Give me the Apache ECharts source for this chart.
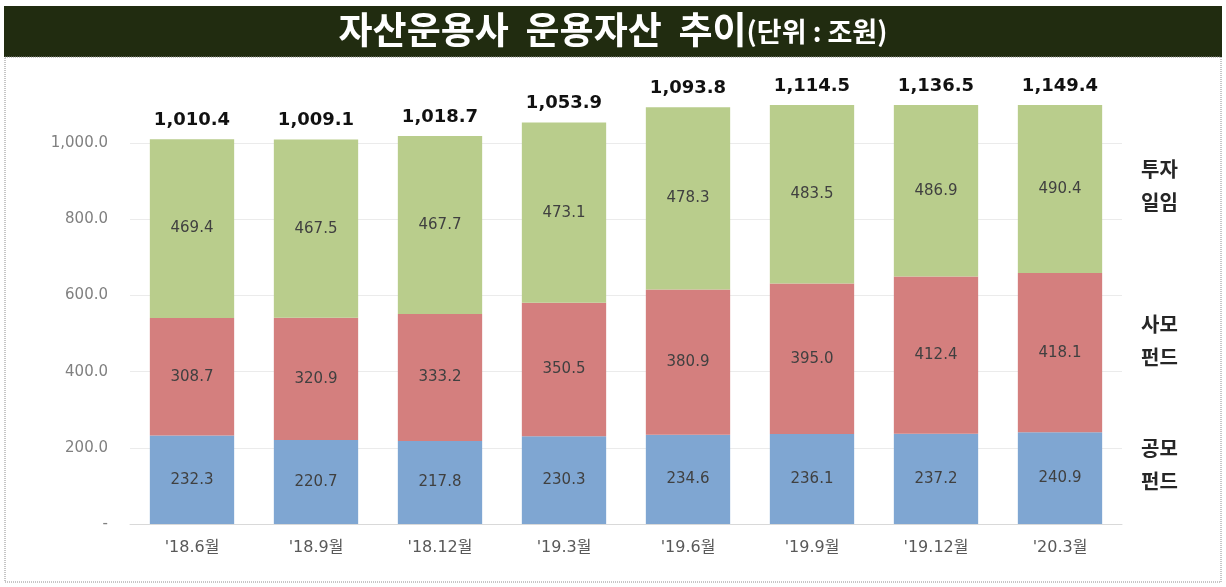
<!DOCTYPE html>
<html>
<head>
<meta charset="utf-8">
<script src="https://cdn.jsdelivr.net/npm/echarts@6/dist/echarts.min.js"></script>
<style>
  html, body { margin: 0; padding: 0; background: #fff; }
  #chart { width: 1226px; height: 587px; }
</style>
</head>
<body>
<div id="chart"></div>
<script>
// data (unit: 조원)
const categories = ["'18.6월", "'18.9월", "'18.12월", "'19.3월", "'19.6월", "'19.9월", "'19.12월", "'20.3월"];
const publicFund = [232.3, 220.7, 217.8, 230.3, 234.6, 236.1, 237.2, 240.9];
const privateFund = [308.7, 320.9, 333.2, 350.5, 380.9, 395.0, 412.4, 418.1];
const discretionary = [469.4, 467.5, 467.7, 473.1, 478.3, 483.5, 486.9, 490.4];
const totals = [1010.4, 1009.1, 1018.7, 1053.9, 1093.8, 1114.5, 1136.5, 1149.4];
const yTicks = [0, 200, 400, 600, 800, 1000];

const FONT_NUM = 'DejaVu Sans';
const FONT_KR = 'Noto Sans CJK KR';

function fmt1(v) {
  return Number(v).toLocaleString('en-US', {minimumFractionDigits: 1, maximumFractionDigits: 1});
}

var chart = echarts.init(document.getElementById('chart'));

const innerLabel = {
  show: true,
  position: 'inside',
  fontFamily: FONT_NUM,
  fontSize: 15,
  color: '#404040',
  formatter: (p) => fmt1(p.value)
};

let opts = {
  animation: false,
  title: {
    text: '{a|자산운용사  운용자산  추이}{b|(단위 : 조원)}',
    left: 'center',
    top: 6,
    textStyle: {
      rich: {
        a: {fontFamily: FONT_KR, fontSize: 37, fontWeight: 'bold', color: '#ffffff'},
        b: {fontFamily: FONT_KR, fontSize: 27, fontWeight: 'bold', color: '#ffffff', padding: [5, 0, 0, 0]}
      }
    }
  },
  graphic: [
    {type: 'rect', z: -1, shape: {x: 4, y: 6, width: 1218, height: 51}, style: {fill: '#212c10'}},
    {type: 'rect', z: -1, shape: {x: 5, y: 57, width: 1216, height: 525},
      style: {fill: 'none', stroke: '#8c8c8c', lineWidth: 1, lineDash: [1, 1]}},
    {type: 'text', left: 1141, top: 153,
      style: {text: '투자\n일임', font: 'bold 20px "Noto Sans CJK KR"', fill: '#262626', lineHeight: 33}},
    {type: 'text', left: 1141, top: 308,
      style: {text: '사모\n펀드', font: 'bold 20px "Noto Sans CJK KR"', fill: '#262626', lineHeight: 33}},
    {type: 'text', left: 1141, top: 432,
      style: {text: '공모\n펀드', font: 'bold 20px "Noto Sans CJK KR"', fill: '#262626', lineHeight: 33}}
  ],
  grid: {left: 130, right: 104, top: 105, bottom: 63},
  xAxis: {
    type: 'category',
    data: categories,
    axisTick: {show: false},
    axisLine: {lineStyle: {color: '#d9d9d9', width: 1}},
    axisLabel: {fontFamily: '"DejaVu Sans", "Noto Sans CJK KR"', fontSize: 16, color: '#595959', margin: 16}
  },
  yAxis: {
    type: 'value',
    min: 0,
    max: 1100,
    interval: 200,
    axisLine: {show: false},
    axisTick: {show: false},
    splitLine: {showMaxLine: false, lineStyle: {color: '#ebebeb', width: 1}},
    axisLabel: {
      fontFamily: FONT_NUM,
      fontSize: 15,
      color: '#808080',
      margin: 22,
      showMaxLabel: false,
      formatter: (v) => (v === 0 ? '-' : (yTicks.indexOf(v) >= 0 ? fmt1(v) : ''))
    }
  },
  series: [
    {
      name: '공모펀드', type: 'bar', stack: 'aum', barWidth: '68%',
      itemStyle: {color: '#7fa6d2'}, label: innerLabel, data: publicFund
    },
    {
      name: '사모펀드', type: 'bar', stack: 'aum', barWidth: '68%',
      itemStyle: {color: '#d47f7e'}, label: innerLabel, data: privateFund
    },
    {
      name: '투자일임', type: 'bar', stack: 'aum', barWidth: '68%',
      itemStyle: {color: '#b9cd8c'}, label: innerLabel, data: discretionary
    },
    {
      // totals, drawn as an invisible bar just for the label on top
      name: '합계', type: 'bar', barWidth: '68%', barGap: '-100%', silent: true,
      itemStyle: {color: 'rgba(0,0,0,0)'},
      label: {
        show: true, position: 'top', distance: 10,
        fontFamily: FONT_NUM, fontSize: 18, fontWeight: 'bold', color: '#111111',
        formatter: (p) => fmt1(p.value)
      },
      data: totals
    }
  ]
};

chart.setOption(opts);
</script>
</body>
</html>
